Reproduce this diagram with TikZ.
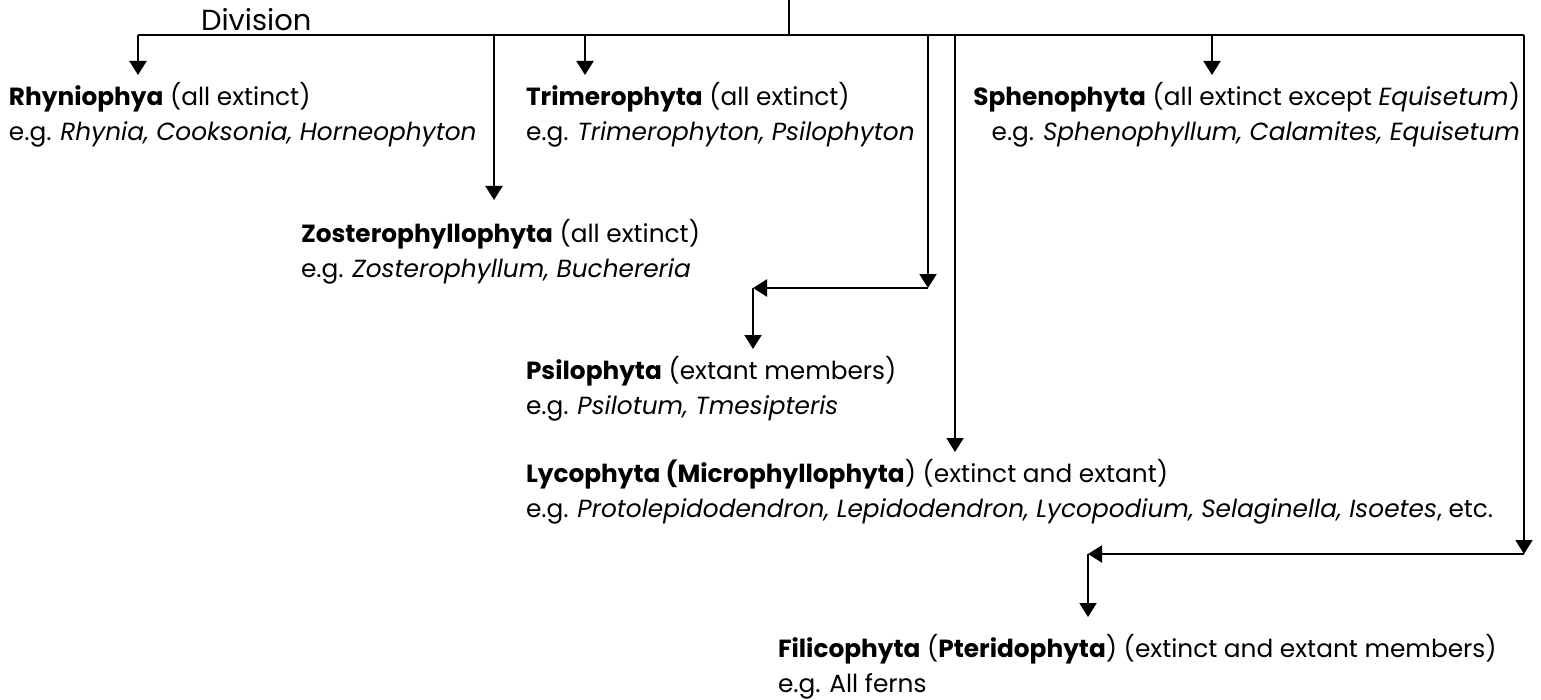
\documentclass[tikz,border=0pt]{standalone}
\usepackage{fontspec}
\setmainfont{Poppins}
\usetikzlibrary{arrows.meta}

\begin{document}
\begin{tikzpicture}[
  x=0.5pt, y=-0.5pt,
  taxon/.style={align=left, anchor=north west, inner xsep=0pt, inner ysep=3pt, font=\fontsize{12.4}{17.5}\selectfont},
  taxonr/.style={taxon, align=right, anchor=north east},
  arr/.style={-{Triangle[length=7pt, width=8.5pt]}, line width=1pt},
  line width=1pt
]
\useasboundingbox (0,0) rectangle (1541,700);

\node[taxon, anchor=west, font=\fontsize{14.5}{17.5}\selectfont] (div) at (200,20) {Division};

\coordinate (top) at (789,0);
\coordinate (bus) at (789,35);
\coordinate (bl) at (138,35);
\coordinate (br) at (1524,35);

\node[taxon] (rhy) at (8,75) {\textbf{Rhyniophya} (all extinct)\\e.g. \textit{Rhynia, Cooksonia, Horneophyton}};
\node[taxon] (tri) at (525,75) {\textbf{Trimerophyta} (all extinct)\\e.g. \textit{Trimerophyton, Psilophyton}};
\node[taxonr] (sph) at (1521,75) {\textbf{Sphenophyta} (all extinct except \textit{Equisetum})\\e.g. \textit{Sphenophyllum, Calamites, Equisetum}};
\node[taxon] (zos) at (300,212) {\textbf{Zosterophyllophyta} (all extinct)\\e.g. \textit{Zosterophyllum, Buchereria}};
\node[taxon] (psi) at (525,349) {\textbf{Psilophyta} (extant members)\\e.g. \textit{Psilotum, Tmesipteris}};
\node[taxon] (lyc) at (525,452) {\textbf{Lycophyta (Microphyllophyta}) (extinct and extant)\\e.g. \textit{Protolepidodendron, Lepidodendron, Lycopodium, Selaginella, Isoetes}, etc.};
\node[taxon] (fil) at (777,627) {\textbf{Filicophyta} (\textbf{Pteridophyta}) (extinct and extant members)\\e.g. All ferns};

\coordinate (p1) at (928,288);
\coordinate (p2) at (753,288);
\coordinate (f1) at (1524,554);
\coordinate (f2) at (1088,554);

\draw (top) -- (bus);
\draw (bl) -- (br);

\draw[arr] (bl) -- (bl |- rhy.north);
\draw[arr, shorten >=6pt] (bus -| 494,0) -- (494,0 |- zos.north);
\draw[arr] (bus -| 585,0) -- (585,0 |- tri.north);
\draw[arr] (bus -| p1) -- (p1);
\draw[arr] (p1) -- (p2);
\draw[arr] (p2) -- (p2 |- psi.north);
\draw[arr] (bus -| 955,0) -- (955,0 |- lyc.north);
\draw[arr] (bus -| 1212,0) -- (1212,0 |- sph.north);
\draw[arr] (br) -- (f1);
\draw[arr] (f1) -- (f2);
\draw[arr, shorten >=5pt] (f2) -- (f2 |- fil.north);
\end{tikzpicture}
\end{document}
